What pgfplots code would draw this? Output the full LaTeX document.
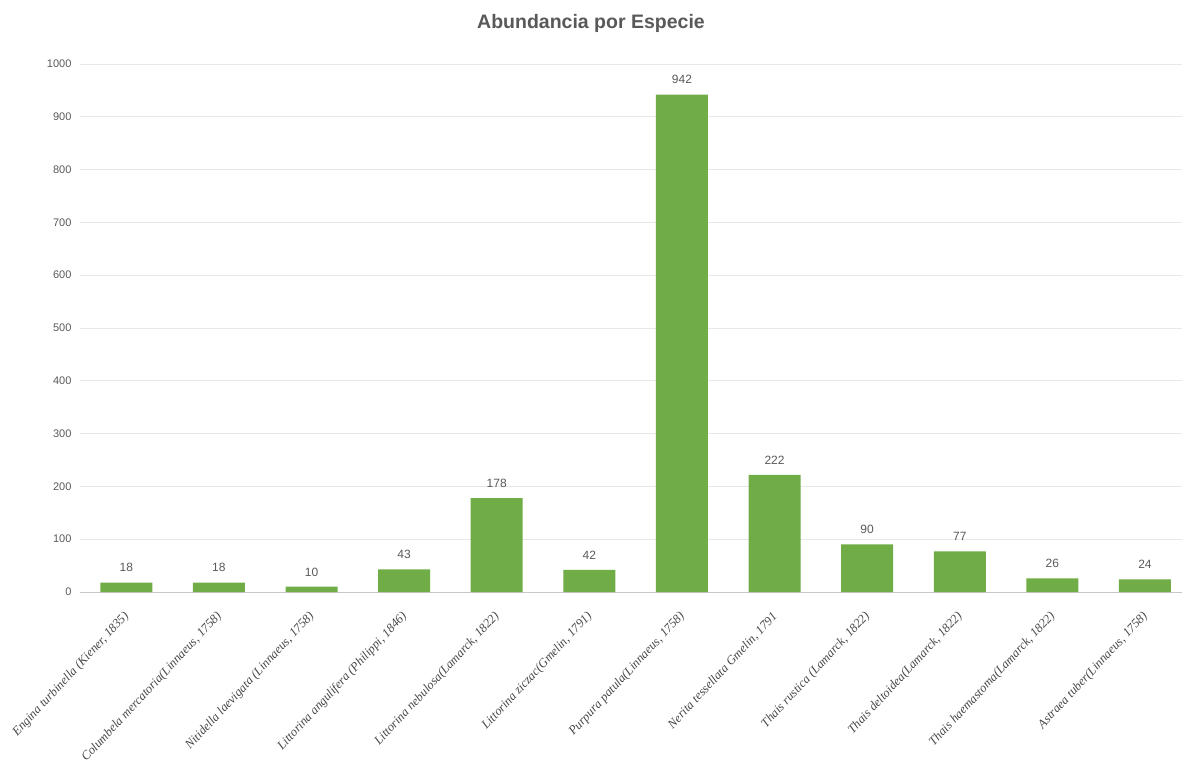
\documentclass[border=0pt]{standalone}
\usepackage{fontspec}
\setmainfont{Liberation Serif}
\newfontfamily\sansf{Liberation Sans}
\usepackage{pgfplots}
\pgfplotsset{compat=1.18}
\definecolor{bargreen}{HTML}{70AD47}
\definecolor{txtgray}{HTML}{595959}
\definecolor{gridgray}{HTML}{E8E8E8}
\definecolor{axisgray}{HTML}{C8C8C8}
\begin{document}
\begin{tikzpicture}
\begin{axis}[
  at={(0pt,0pt)}, anchor=south west,
  scale only axis, width=1102pt, height=528pt,
  xmin=-0.5, xmax=11.4, ymin=0, ymax=1000,
  ytick={0,100,...,1000},
  xtick={0,...,11},
  xticklabels={{Engina turbinella (Kiener, 1835)},{Columbela mercatoria(Linnaeus, 1758)},{Nitidella laevigata (Linnaeus, 1758)},{Littorina angulifera (Philippi, 1846)},{Littorina nebulosa(Lamarck, 1822)},{Littorina ziczac(Gmelin, 1791)},{Purpura patula(Linnaeus, 1758)},{Nerita tessellata  Gmelin, 1791},{Thais rustica  (Lamarck, 1822)},{Thais deltoidea(Lamarck, 1822)},{Thais haemastoma(Lamarck, 1822)},{Astraea tuber(Linnaeus, 1758)}},
  xticklabel style={xshift=3pt, yshift=-20pt, rotate=47, anchor=east, font=\itshape\fontsize{12.5}{12.5}\selectfont, text=txtgray!80!black},
  yticklabel style={font=\sansf\fontsize{11}{11}\selectfont, text=txtgray, xshift=-5pt},
  /pgf/number format/assume math mode=true,
  /pgf/number format/1000 sep={},
  ymajorgrids, grid style={draw=gridgray, line width=0.8pt},
  axis lines=left,
  y axis line style={draw=none},
  x axis line style={draw=axisgray, line width=1pt, -},
  major tick length=0pt,
  ybar, bar width=52pt,
  nodes near coords,
  every node near coord/.append style={font=\sansf\fontsize{12}{12}\selectfont, text=txtgray, yshift=7pt},
  title={Abundancia por Especie},
  title style={at={(0.4637,1)}, anchor=center, yshift=35pt, font=\sansf\bfseries\fontsize{19.5}{19.5}\selectfont, text=txtgray},
  clip=false,
]
\addplot[fill=bargreen, draw=none] coordinates {
(0,18) (1,18) (2,10) (3,43) (4,178) (5,42) (6,942) (7,222) (8,90) (9,77) (10,26) (11,24)};
\end{axis}
\pgfresetboundingbox
\path[use as bounding box] (-80pt,-180pt) rectangle (1102pt,592pt);
\end{tikzpicture}
\end{document}
